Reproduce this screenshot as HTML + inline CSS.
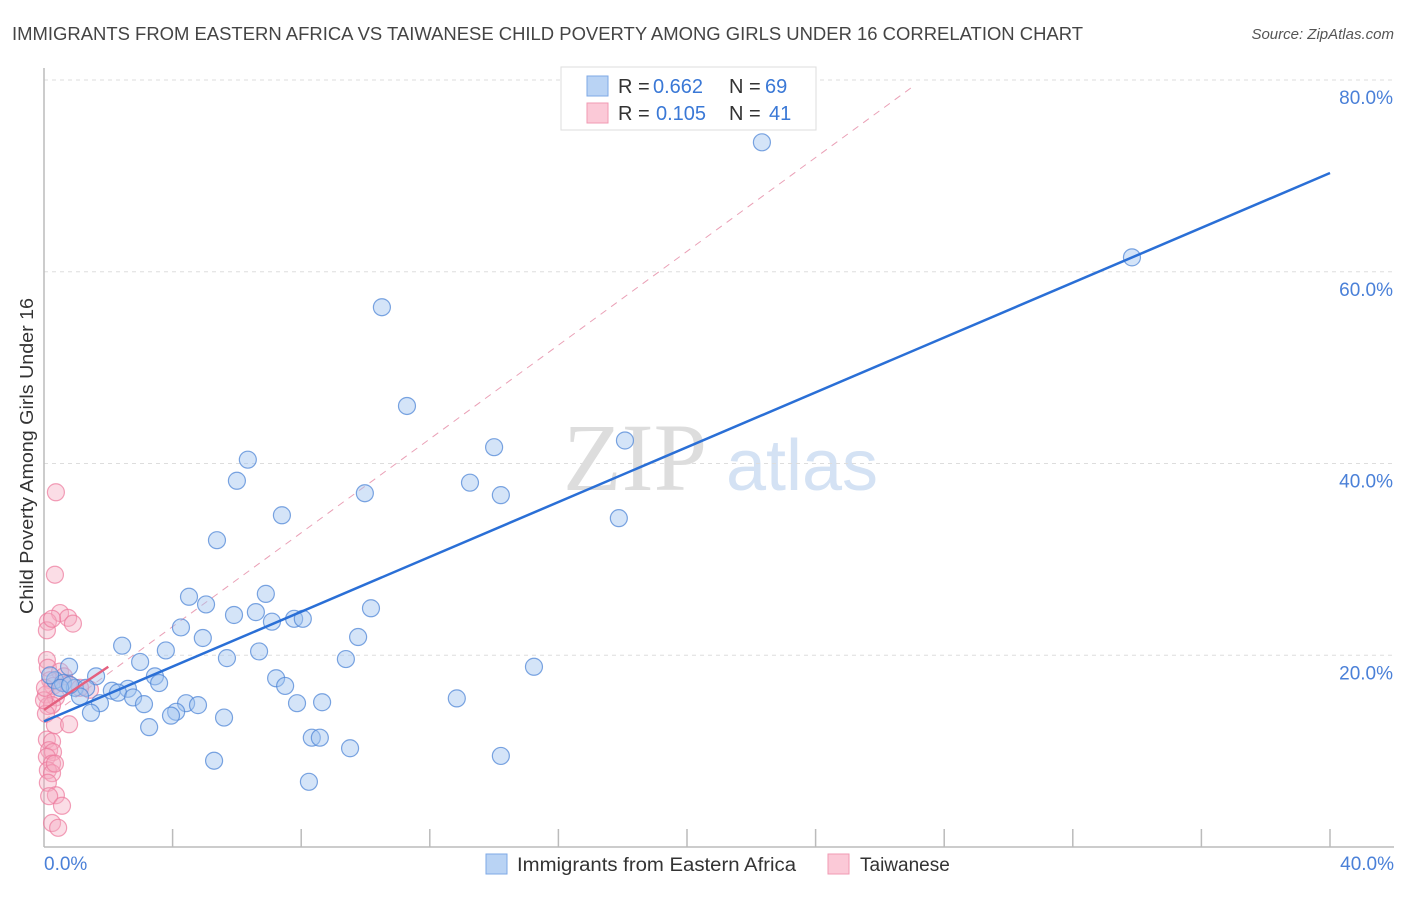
<!DOCTYPE html>
<html><head><meta charset="utf-8"><style>
body{margin:0;background:#fff;font-family:"Liberation Sans",sans-serif;}
</style></head><body>
<svg id="chart" width="1406" height="892" xmlns="http://www.w3.org/2000/svg" font-family="Liberation Sans, sans-serif">
<text x="12" y="40" font-size="18" fill="#444" textLength="1071" lengthAdjust="spacingAndGlyphs">IMMIGRANTS FROM EASTERN AFRICA VS TAIWANESE CHILD POVERTY AMONG GIRLS UNDER 16 CORRELATION CHART</text>
<text x="1394" y="39" font-size="15" fill="#555" text-anchor="end" font-style="italic">Source: ZipAtlas.com</text>
<text transform="translate(33,456) rotate(-90)" font-size="18" fill="#333" text-anchor="middle" textLength="316" lengthAdjust="spacingAndGlyphs">Child Poverty Among Girls Under 16</text>
<g><text x="635" y="490" font-size="96" fill="#ddd" text-anchor="middle" font-family="Liberation Serif, serif">ZIP</text><text x="802" y="490" font-size="72" fill="#d4e2f4" text-anchor="middle">atlas</text></g>
<g id="grid"></g><g id="axes"></g><g id="lines"></g><g id="pts"></g>
<g>
<rect x="561" y="67" width="255" height="63" fill="#fff" stroke="#ddd"/>
<rect x="587" y="76" width="21" height="20" fill="#b9d3f4" stroke="#7ea8e6"/>
<text x="618" y="93" font-size="20" fill="#333">R =</text>
<text x="653" y="93" font-size="20" fill="#3a78d6">0.662</text>
<text x="729" y="93" font-size="20" fill="#333">N =</text>
<text x="765" y="93" font-size="20" fill="#3a78d6">69</text>
<rect x="587" y="103" width="21" height="20" fill="#fbc9d7" stroke="#f09ab3"/>
<text x="618" y="120" font-size="20" fill="#333">R =</text>
<text x="656" y="120" font-size="20" fill="#3a78d6">0.105</text>
<text x="729" y="120" font-size="20" fill="#333">N =</text>
<text x="769" y="120" font-size="20" fill="#3a78d6">41</text>
</g>
<g>
<rect x="486" y="854" width="21" height="20" fill="#b9d3f4" stroke="#7ea8e6"/>
<text x="517" y="871" font-size="19" fill="#333" textLength="279" lengthAdjust="spacingAndGlyphs">Immigrants from Eastern Africa</text>
<rect x="828" y="854" width="21" height="20" fill="#fbc9d7" stroke="#f09ab3"/>
<text x="860" y="871" font-size="19" fill="#333">Taiwanese</text>
</g>
</svg>
<script>
const blueX=[22.33,33.84,10.51,11.29,18.07,14.0,6.34,6.0,13.25,9.98,14.21,7.40,17.88,5.38,6.90,4.51,5.04,10.17,5.91,6.59,7.78,8.05,7.09,4.26,9.77,4.94,2.43,3.79,6.69,9.39,5.69,2.99,15.24,0.78,1.62,3.45,7.22,3.58,7.50,0.34,0.59,0.96,1.31,2.11,2.61,2.30,2.77,3.11,1.12,1.74,7.87,8.65,12.84,4.42,4.79,4.11,3.95,1.46,5.60,3.27,8.33,8.58,9.52,5.29,14.21,8.24,0.19,0.50,0.81];
const blueY=[73.5,61.5,56.3,46.0,42.4,41.7,40.4,38.2,38.0,36.9,36.7,34.6,34.3,32.0,26.4,26.1,25.3,24.9,24.2,24.5,23.8,23.8,23.5,22.9,21.9,21.8,21.0,20.5,20.4,19.6,19.7,19.3,18.8,18.8,17.8,17.8,17.6,17.1,16.8,17.4,17.1,16.6,16.6,16.3,16.5,16.1,15.6,14.9,15.7,15.0,15.0,15.1,15.5,15.0,14.8,14.1,13.7,14.0,13.5,12.5,11.4,11.4,10.3,9.0,9.5,6.8,17.9,16.6,16.9];
const pinkX=[0.37,0.34,0.50,0.75,0.90,0.12,0.09,0.25,0.09,0.12,0.50,0.62,0.19,0.28,0.75,1.43,0.06,0.37,0.12,0.25,0.06,0.34,0.78,0.09,0.25,0.16,0.28,0.09,0.25,0.12,0.25,0.34,0.12,0.37,0.16,0.56,0.25,0.44,0,0.03,1.12];
const pinkY=[37.0,28.4,24.4,23.9,23.3,23.5,22.6,23.8,19.5,18.7,18.3,17.8,17.4,16.8,17.0,16.4,15.9,15.6,14.7,14.8,13.9,12.7,12.8,11.2,11.0,10.1,9.9,9.4,8.7,8.0,7.7,8.7,6.7,5.4,5.3,4.3,2.5,2.0,15.3,16.6,16.6];
const blueTrend=[[0,13.1],[40,70.3]];
const pinkTrend=[[0,14.3],[2,18.8]];
const pinkDash=[[0,13.2],[27.1,79.5]];
const yTicks=[20,40,60,80];
const xTickLabels=["0.0%","40.0%"];
const NS="http://www.w3.org/2000/svg";
const X=v=>44+v*32.15, Y=v=>847-v*9.5875;
function mk(tag,attrs,parent){const e=document.createElementNS(NS,tag);for(const k in attrs)e.setAttribute(k,attrs[k]);parent.appendChild(e);return e;}
const grid=document.getElementById('grid'),axes=document.getElementById('axes'),lines=document.getElementById('lines'),pts=document.getElementById('pts');
yTicks.forEach(t=>{
 const l=mk('line',{x1:44,x2:1394,y1:Y(t),y2:Y(t),stroke:'#ddd','stroke-dasharray':'4,4'},grid);
 
 
 const tx=mk('text',{x:1393,y:Y(t)+24,'font-size':19,fill:'#4a80d8','text-anchor':'end'},grid);tx.textContent=t.toFixed(1)+'%';
 
 
});
const ya=mk('line',{x1:44,x2:44,y1:68,y2:847,stroke:'#bbb','stroke-width':1.5},axes);


const xa=mk('line',{x1:44,x2:1394,y1:847,y2:847,stroke:'#bbb','stroke-width':1.5},axes);


for(let i=1;i<=10;i++){const t=mk('line',{x1:X(i*4),x2:X(i*4),y1:829,y2:847,stroke:'#bbb','stroke-width':1.5},axes);
 
 }
const xl0=mk('text',{x:44,y:870,'font-size':19,fill:'#4a80d8'},axes);xl0.textContent=xTickLabels[0];


const xl1=mk('text',{x:1394,y:870,'font-size':19,fill:'#4a80d8','text-anchor':'end'},axes);xl1.textContent=xTickLabels[1];


function drawPts(xs,ys,fill,stroke,name){xs.forEach((x,i)=>{const c=mk('circle',{cx:X(x),cy:Y(ys[i]),r:8.5,fill:fill,stroke:stroke,'stroke-width':1.2},pts);
 
 });}
drawPts(pinkX,pinkY,'rgba(246,170,192,0.4)','rgba(236,120,155,0.7)','taiwanese-point');
drawPts(blueX,blueY,'rgba(160,196,240,0.45)','rgba(80,135,215,0.75)','eastern-africa-point');
const d=mk('line',{x1:X(pinkDash[0][0]),y1:Y(pinkDash[0][1]),x2:X(pinkDash[1][0]),y2:Y(pinkDash[1][1]),stroke:'#eaa0b6','stroke-width':1,'stroke-dasharray':'7,6'},lines);


const bt=mk('line',{x1:X(blueTrend[0][0]),y1:Y(blueTrend[0][1]),x2:X(blueTrend[1][0]),y2:Y(blueTrend[1][1]),stroke:'#2a6fd6','stroke-width':2.5},pts);


const pt=mk('line',{x1:X(pinkTrend[0][0]),y1:Y(pinkTrend[0][1]),x2:X(pinkTrend[1][0]),y2:Y(pinkTrend[1][1]),stroke:'#e4607f','stroke-width':2.5},pts);


</script>
</body></html>
